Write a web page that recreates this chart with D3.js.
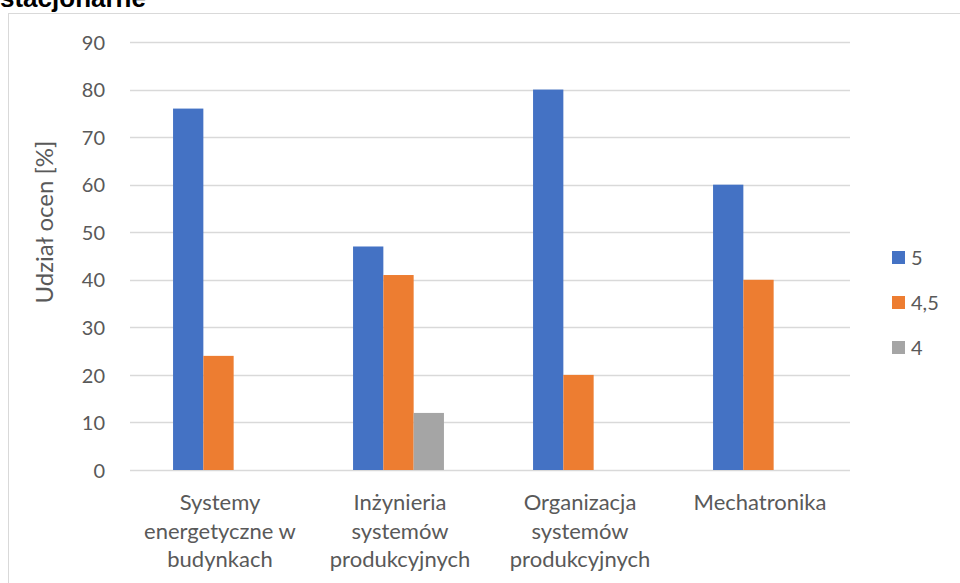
<!DOCTYPE html>
<html>
<head>
<meta charset="utf-8">
<script src="https://cdn.jsdelivr.net/npm/d3@7"></script>
<style>
  html, body { margin: 0; padding: 0; background: #fff; }
  svg { display: block; }
  text { font-family: Lato, "Open Sans", sans-serif; fill: #595959; }
</style>
</head>
<body>
<svg id="chart" width="960" height="583"></svg>
<script>
// Field of study (line breaks mark wrapped label lines)
const categories = [
  "Systemy\nenergetyczne w\nbudynkach",
  "Inżynieria\nsystemów\nprodukcyjnych",
  "Organizacja\nsystemów\nprodukcyjnych",
  "Mechatronika"
];
// Grade series and share of each grade [%]
const seriesNames = ["5", "4,5", "4"];
const grade5  = [76, 47, 80, 60];
const grade45 = [24, 41, 20, 40];
const grade4  = [0, 12, 0, 0];
const seriesColors = ["#4472C4", "#ED7D31", "#A5A5A5"];
const yTicks = [0, 10, 20, 30, 40, 50, 60, 70, 80, 90];

const seriesValues = [grade5, grade45, grade4];

const svg = d3.select("#chart");

// Chart frame and title
svg.append("rect")
  .attr("x", 8.5).attr("y", 13.5)
  .attr("width", 980).attr("height", 600)
  .attr("fill", "none").attr("stroke", "#D9D9D9").attr("stroke-width", 1);

svg.append("text")
  .attr("x", 0).attr("y", 7)
  .style("font-family", "'Liberation Sans', Arial, sans-serif")
  .style("font-weight", "bold")
  .style("font-size", "26px")
  .style("fill", "#000")
  .text("stacjonarne");

const plot = { left: 130, right: 850, top: 42, bottom: 470 };

const x0 = d3.scaleBand()
  .domain(d3.range(categories.length))
  .range([plot.left, plot.right]);

const barWidth = 30.3;
const x1 = d3.scaleBand()
  .domain(d3.range(seriesNames.length))
  .range([-barWidth * 1.5, barWidth * 1.5]);

const y = d3.scaleLinear().domain([0, 90]).range([plot.bottom, plot.top]);

// Gridlines
svg.append("g")
  .selectAll("line")
  .data(yTicks)
  .join("line")
  .attr("x1", plot.left).attr("x2", plot.right)
  .attr("y1", d => Math.round(y(d)) + 0.5)
  .attr("y2", d => Math.round(y(d)) + 0.5)
  .attr("stroke", "#D9D9D9").attr("stroke-width", 1.3);

// Y axis tick labels
const yAxis = d3.axisLeft(y).tickValues(yTicks).tickSize(0).tickPadding(0);
const yg = svg.append("g").attr("transform", `translate(${plot.left - 25},0)`).call(yAxis);
yg.select(".domain").remove();
yg.selectAll("text")
  .style("font-family", "Lato, sans-serif")
  .style("font-size", "20px")
  .attr("fill", "#595959")
  .attr("dy", "0.36em");

// Y axis title
svg.append("text")
  .attr("transform", "translate(53,222) rotate(-90)")
  .attr("text-anchor", "middle")
  .style("font-size", "24px")
  .text("Udział ocen [%]");

// Bars
const groups = svg.append("g")
  .selectAll("g")
  .data(categories.map((c, i) => i))
  .join("g")
  .attr("transform", i => `translate(${x0(i) + x0.bandwidth() / 2 - 1.5},0)`);

groups.selectAll("rect")
  .data(i => seriesValues.map((vals, s) => ({ s, v: vals[i] })))
  .join("rect")
  .filter(d => d.v > 0)
  .attr("x", d => x1(d.s))
  .attr("width", x1.bandwidth())
  .attr("y", d => y(d.v))
  .attr("height", d => y(0) - y(d.v))
  .attr("fill", d => seriesColors[d.s]);

// Category labels
const xAxis = svg.append("g");
categories.forEach((c, i) => {
  const t = xAxis.append("text")
    .attr("text-anchor", "middle")
    .style("font-size", "22px");
  c.split("\n").forEach((line, k) => {
    t.append("tspan")
      .attr("x", x0(i) + x0.bandwidth() / 2)
      .attr("y", 510 + k * 28.7)
      .text(line);
  });
});

// Legend
const legend = svg.append("g")
  .selectAll("g")
  .data(seriesNames)
  .join("g")
  .attr("transform", (d, i) => `translate(892,${251 + i * 45})`);
legend.append("rect")
  .attr("width", 13).attr("height", 13)
  .attr("fill", (d, i) => seriesColors[i]);
legend.append("text")
  .attr("x", 19).attr("y", 6.5).attr("dy", "0.36em")
  .style("font-size", "20px")
  .text(d => d);
</script>
</body>
</html>
